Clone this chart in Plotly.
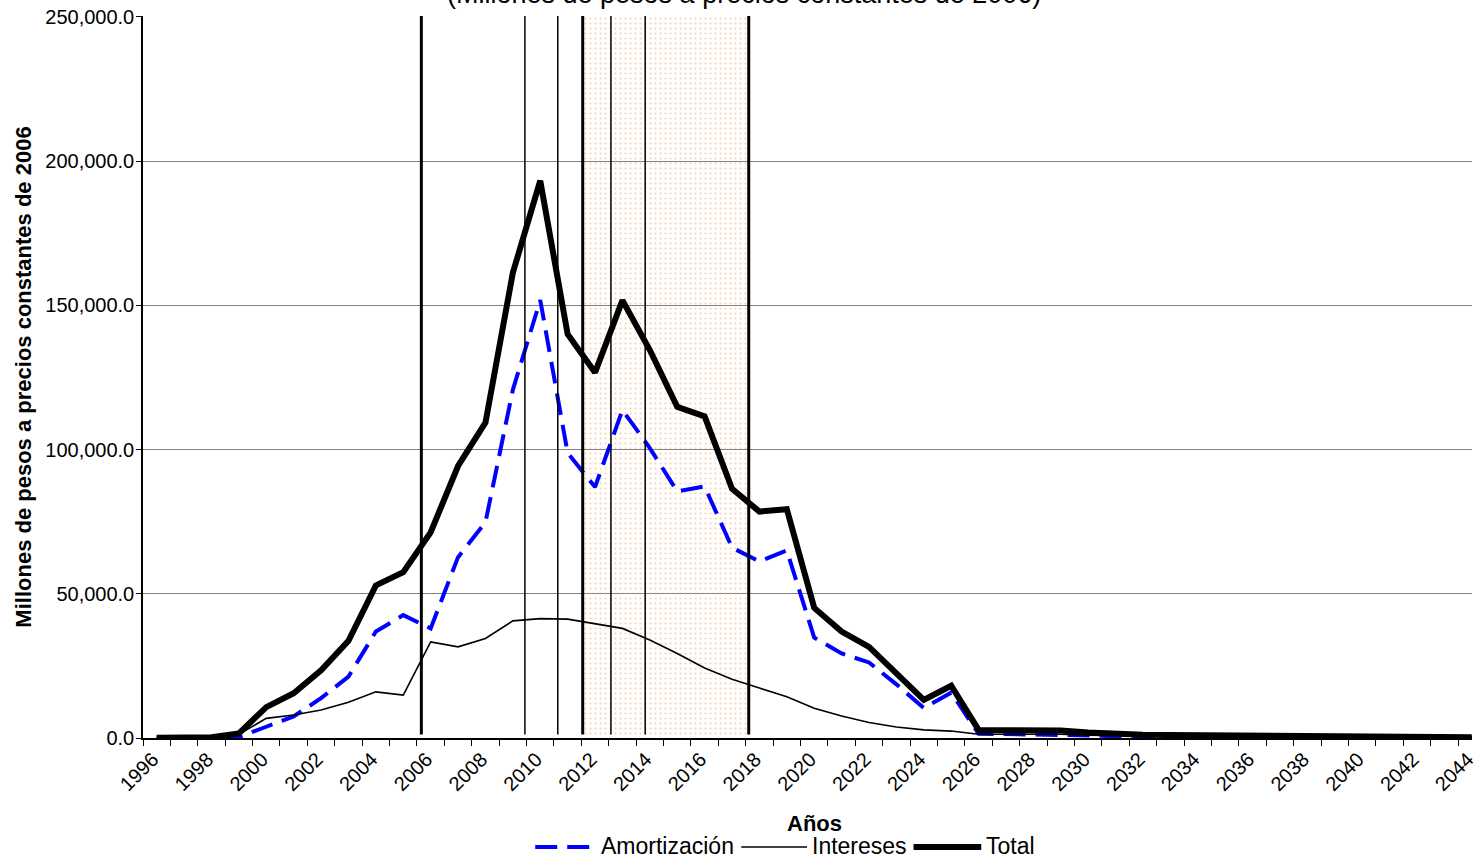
"""
Servicio de la deuda: amortización, intereses y total (1996-2044).
"""

import plotly.graph_objects as go

# === Data ===
YEARS = list(range(1996, 2045))

AMORTIZACION = [
    50, 80, 150, 300, 3900, 7500, 13800, 21300, 36900, 42600,
    38000, 62700, 74800, 120700, 151800, 98800, 87000, 113700, 100500, 85500,
    87200, 66000, 61200, 65000, 34800, 29300, 26200, 18600, 10400, 15700,
    1500, 1400, 1400, 1300, 900, 600, 500, 500, 450, 450,
    400, 350, 350, 300, 300, 300, 250, 200, 150,
]

INTERESES = [
    50, 80, 150, 1300, 6800, 8000, 9700, 12400, 16000, 14900,
    33300, 31600, 34500, 40600, 41400, 41200, 39700, 38000, 34000, 29300,
    24300, 20400, 17300, 14300, 10300, 7600, 5400, 3800, 2800, 2400,
    1300, 1300, 1300, 1300, 1000, 700, 600, 550, 500, 450,
    450, 400, 350, 350, 300, 250, 250, 150, 100,
]

TOTAL = [
    100, 150, 300, 1600, 10700, 15500, 23500, 33700, 52900, 57500,
    71300, 94300, 109300, 161300, 193200, 140000, 126700, 151700, 134500, 114800,
    111500, 86400, 78500, 79300, 45100, 36900, 31600, 22400, 13200, 18100,
    2800, 2700, 2700, 2600, 1900, 1300, 1100, 1050, 950, 900,
    850, 750, 700, 650, 600, 550, 500, 350, 250,
]

# marker lines (in years) and shaded period
THICK_LINES = [2005.66, 2011.55, 2017.61]
THIN_LINES = [2009.44, 2010.64, 2012.58, 2013.83]
SHADE_PERIOD = [2011.55, 2017.61]

TITLE = "(Millones de pesos a precios constantes de 2006)"
X_TITLE = "Años"
Y_TITLE = "Millones de pesos a precios constantes de 2006"
FONT = "Arial, Liberation Sans, sans-serif"

W, H = 1478, 861
M_L, M_R, M_T, M_B = 143, 0, 16, 123
PLOT_W = W - M_L - M_R
PLOT_H = H - M_T - M_B


def px_to_paper(xp, yp):
    """Pixel position on the page -> paper coordinates."""
    return (xp - M_L) / PLOT_W, (H - M_B - yp) / PLOT_H


fig = go.Figure()

# Shaded dotted period
fig.add_trace(go.Scatter(
    x=[SHADE_PERIOD[0], SHADE_PERIOD[1], SHADE_PERIOD[1], SHADE_PERIOD[0], SHADE_PERIOD[0]],
    y=[0, 0, 250000, 250000, 0],
    mode="lines", fill="toself",
    fillcolor="rgba(255,255,255,0)",
    fillpattern=dict(shape=".", fgcolor="#f4a15e", size=5, solidity=0.14),
    line=dict(width=0, color="rgba(0,0,0,0)"),
    showlegend=False, hoverinfo="skip",
))

SERIES = [
    ("Amortización", AMORTIZACION, dict(color="#0000ff", width=4, dash="22px,10px")),
    ("Intereses", INTERESES, dict(color="#000000", width=1.6)),
    ("Total", TOTAL, dict(color="#000000", width=6)),
]
for name, values, line in SERIES:
    fig.add_trace(go.Scatter(x=YEARS, y=values, name=name, mode="lines",
                             line=line, showlegend=False))

# Vertical marker lines
for xv in THICK_LINES:
    fig.add_shape(type="line", xref="x", yref="paper", x0=xv, x1=xv, y0=0.005, y1=1,
                  line=dict(color="#000000", width=3))
for xv in THIN_LINES:
    fig.add_shape(type="line", xref="x", yref="paper", x0=xv, x1=xv, y0=0.005, y1=1,
                  line=dict(color="#000000", width=1.5))

# Legend drawn by hand (long line samples, as in the original)
LEGEND_POS = [(537, 598), (744, 810), (917, 985)]
for (name, _, line), (xa, xb) in zip(SERIES, LEGEND_POS):
    x0, y0 = px_to_paper(xa, 847)
    x1, _ = px_to_paper(xb, 847)
    fig.add_shape(type="line", xref="paper", yref="paper", x0=x0, x1=x1, y0=y0, y1=y0,
                  line=line)
    tx, ty = px_to_paper(xb + 3, 861)
    fig.add_annotation(text=name, xref="paper", yref="paper", x=tx, y=ty,
                       xanchor="left", yanchor="bottom", showarrow=False,
                       font=dict(size=23, color="#000000", family=FONT))

# Title (cut at the top, as in the original)
fig.add_annotation(
    text=TITLE, xref="paper", yref="paper", x=px_to_paper(747, 0)[0], y=1,
    xanchor="center", yanchor="bottom", yshift=5, showarrow=False,
    font=dict(size=27, color="#000000", family=FONT),
)

# X axis title
ax, ay = px_to_paper(818, 823)
fig.add_annotation(
    text=f"<b>{X_TITLE}</b>", xref="paper", yref="paper", x=ax, y=ay,
    xanchor="center", yanchor="middle", showarrow=False,
    font=dict(size=22, color="#000000", family=FONT),
)

fig.update_layout(
    width=W, height=H,
    margin=dict(l=M_L, r=M_R, t=M_T, b=M_B),
    paper_bgcolor="white",
    plot_bgcolor="white",
    font=dict(family=FONT, color="#000000"),
    showlegend=False,
    xaxis=dict(
        range=[1995.5, 2044.01],
        tickmode="linear", tick0=1996, dtick=2,
        tickangle=-45, ticks="",
        tickfont=dict(size=20),
        ticklabeloverflow="allow",
        ticklabelshift=-4,
        showgrid=False, zeroline=False,
        showline=True, linecolor="#000000", linewidth=1.5,
        minor=dict(ticks="outside", tickmode="linear", tick0=1995.5, dtick=1,
                   ticklen=6, tickcolor="#000000", tickwidth=1),
    ),
    yaxis=dict(
        range=[0, 250300],
        tickmode="linear", tick0=0, dtick=50000,
        tickformat=",.1f",
        ticks="outside", ticklen=5, tickcolor="#000000",
        tickfont=dict(size=20),
        ticklabeloverflow="allow",
        ticklabelstandoff=-2,
        showgrid=True, gridcolor="#808080", gridwidth=1.2,
        zeroline=False,
        showline=True, linecolor="#000000", linewidth=1.5,
        title=dict(text=f"<b>{Y_TITLE}</b>", font=dict(size=22), standoff=8),
    ),
)

fig.write_html(
    "out.html",
    config={"displayModeBar": False},
    post_script="document.body.style.margin = '0';",
)
